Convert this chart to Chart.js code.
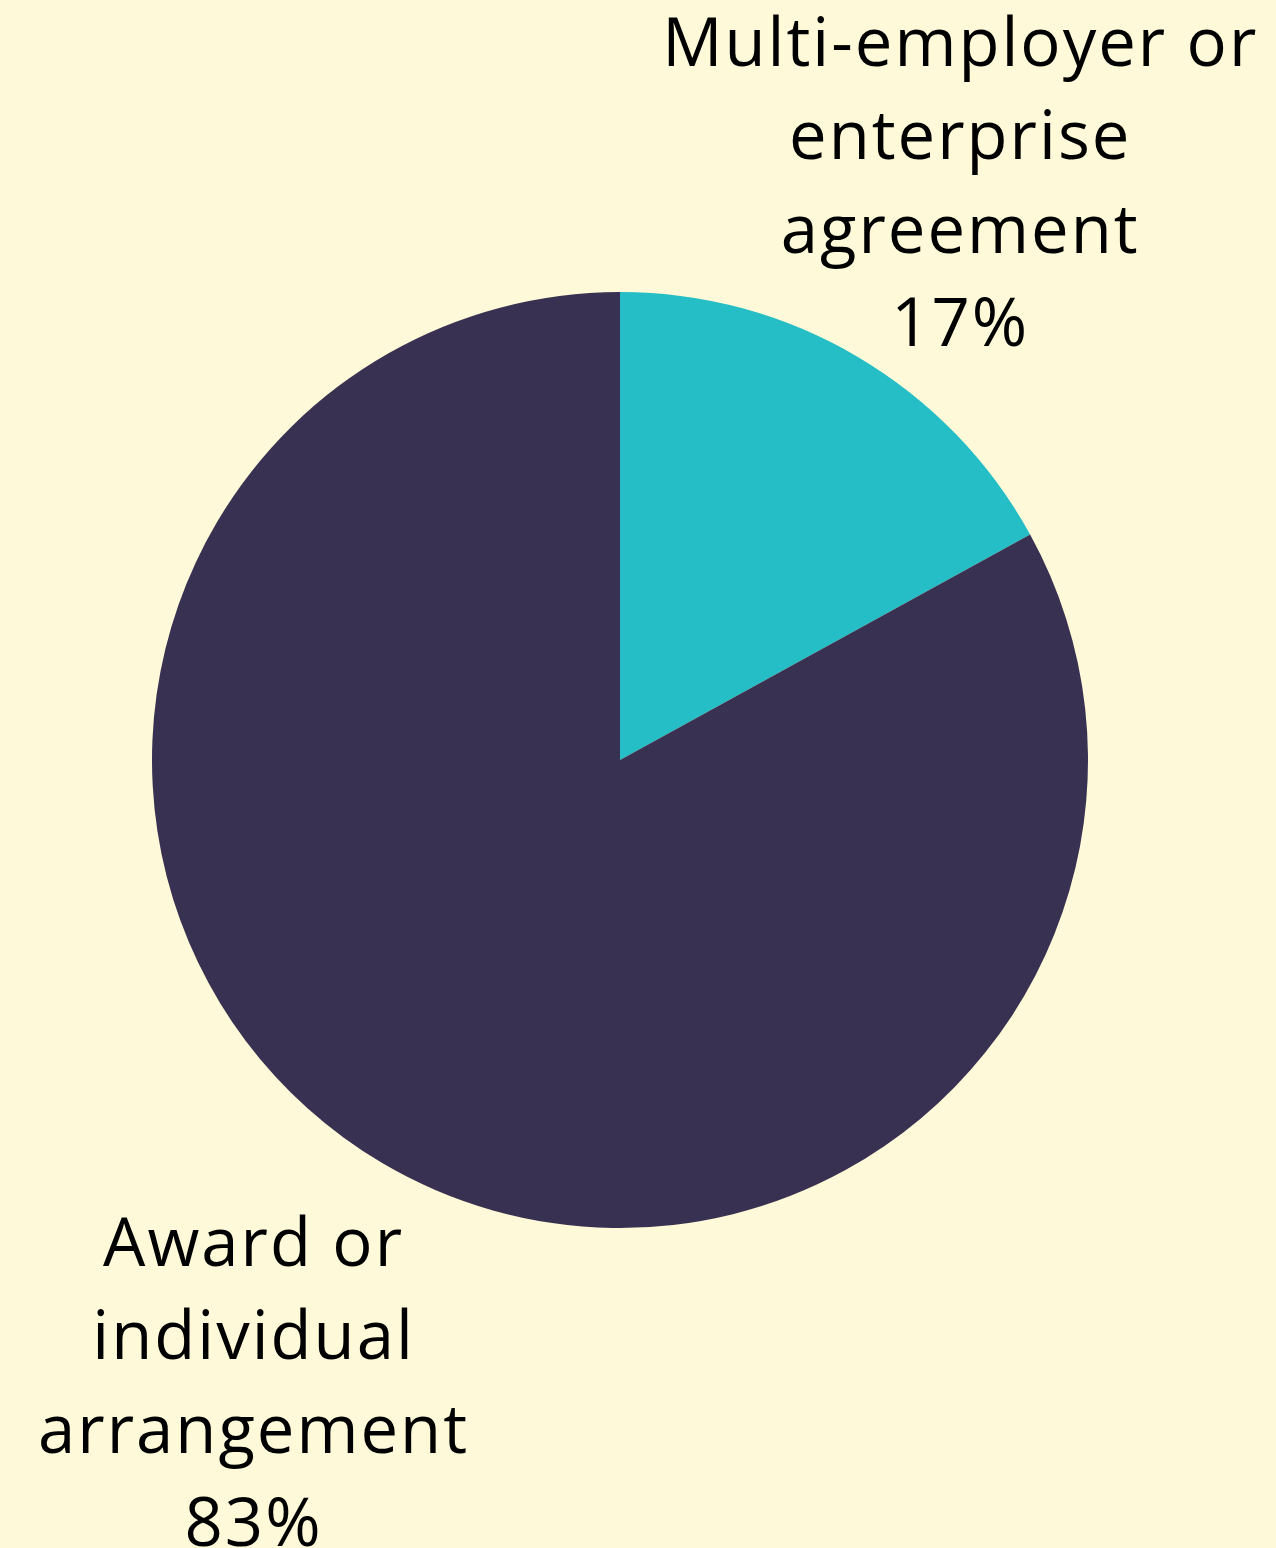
<!DOCTYPE html>
<html>
<head>
<meta charset="utf-8">
<script src="https://cdn.jsdelivr.net/npm/chart.js@4/dist/chart.umd.min.js"></script>
<style>
  html, body { margin: 0; padding: 0; background: #fef9d8; }
  #wrap { width: 1276px; height: 1548px; }
</style>
</head>
<body>
<div id="wrap"><canvas id="pie"></canvas></div>
<script>
const categories = ['Multi-employer or enterprise agreement', 'Award or individual arrangement'];
const labelLines = [
    ['Multi-employer or', 'enterprise', 'agreement'],
    ['Award or', 'individual', 'arrangement']
];
const shares = [17, 83];
const colors = ['#25bdc6', '#383152'];

// where each label block sits, relative to pie centre, in units of radius
const labelAnchors = [
    { dx: 0.727, dy: -1.225 },
    { dx: -0.783, dy: 1.34 }
];

const outsideLabels = {
    id: 'outsideLabels',
    afterDraw(chart) {
        const ctx = chart.ctx;
        const arcs = chart.getDatasetMeta(0).data;
        ctx.save();
        ctx.fillStyle = '#000';
        ctx.font = '67px "Open Sans", sans-serif';
        ctx.letterSpacing = '2px';
        ctx.textAlign = 'center';
        ctx.textBaseline = 'middle';
        const lineH = 93.5;
        arcs.forEach((arc, i) => {
            const r = arc.outerRadius;
            const cx = arc.x + labelAnchors[i].dx * r;
            const cy = arc.y + labelAnchors[i].dy * r;
            const lines = labelLines[i].concat([shares[i] + '%']);
            const top = cy - (lines.length - 1) * lineH / 2;
            lines.forEach((t, j) => ctx.fillText(t, cx, top + j * lineH));
        });
        ctx.restore();
    }
};

new Chart(document.getElementById('pie'), {
    type: 'pie',
    data: {
        labels: categories,
        datasets: [{
            data: shares,
            backgroundColor: colors,
            borderWidth: 0
        }]
    },
    options: {
        responsive: true,
        maintainAspectRatio: false,
        animation: false,
        layout: { padding: { left: 152, right: 188, top: 292, bottom: 320 } },
        plugins: {
            legend: { display: false },
            tooltip: { enabled: false }
        }
    },
    plugins: [outsideLabels]
});
</script>
</body>
</html>
